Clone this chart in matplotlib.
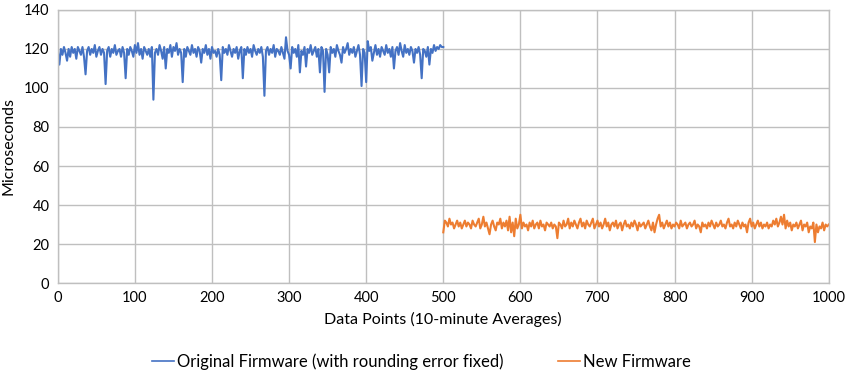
import numpy as np
import matplotlib
matplotlib.use("Agg")
import matplotlib.pyplot as plt

plt.rcParams['font.family'] = ['Lato', 'DejaVu Sans']

# Original firmware: data points 0..500, every 2nd point
orig_x = list(range(0, 501, 2))
orig_y = [
    119, 112, 120, 117, 121, 118, 114, 120, 116, 121,
    118, 120, 115, 121, 119, 117, 121, 116, 107, 119,
    121, 117, 120, 118, 122, 116, 119, 121, 117, 120,
    118, 102, 119, 121, 116, 120, 118, 122, 117, 119,
    120, 116, 121, 118, 105, 120, 117, 121, 119, 116,
    122, 118, 123, 117, 120, 115, 121, 119, 117, 120,
    116, 121, 94, 118, 120, 117, 122, 119, 115, 121,
    110, 120, 118, 122, 116, 121, 119, 123, 117, 120,
    118, 103, 120, 116, 121, 119, 117, 122, 118, 120,
    116, 121, 119, 113, 120, 118, 122, 117, 120, 115,
    121, 118, 119, 116, 120, 117, 104, 121, 118, 120,
    117, 122, 119, 116, 120, 118, 121, 115, 119, 121,
    105, 120, 117, 121, 118, 120, 116, 122, 119, 117,
    120, 118, 121, 116, 96, 119, 121, 117, 120, 118,
    122, 116, 120, 119, 117, 121, 118, 115, 126, 119,
    117, 110, 121, 118, 120, 116, 122, 108, 119, 117,
    121, 111, 120, 118, 122, 117, 119, 121, 116, 120,
    108, 121, 119, 98, 120, 117, 108, 121, 118, 120,
    116, 122, 119, 117, 113, 121, 118, 120, 123, 117,
    120, 118, 121, 116, 119, 122, 117, 101, 120, 118,
    103, 124, 119, 121, 114, 118, 122, 117, 120, 116,
    121, 119, 117, 122, 118, 120, 116, 121, 110, 119,
    121, 117, 123, 119, 116, 122, 118, 120, 117, 121,
    119, 113, 120, 118, 121, 117, 105, 120, 119, 116,
    121, 112, 120, 118, 122, 119, 121, 120, 122, 121,
    121,
]

# New firmware: data points 500..1000, every 2nd point
new_x = list(range(500, 1001, 2))
new_y = [
    26, 32, 31, 29, 33, 30, 31, 28, 30, 32,
    29, 31, 28, 30, 32, 29, 31, 30, 28, 32,
    30, 29, 31, 33, 28, 30, 34, 29, 31, 28,
    25, 30, 32, 29, 27, 31, 30, 33, 28, 31,
    29, 32, 27, 34, 26, 31, 24, 33, 28, 30,
    35, 28, 31, 29, 30, 27, 31, 29, 32, 28,
    30, 31, 28, 32, 29, 30, 27, 31, 30, 29,
    31, 28, 30, 29, 23, 31, 30, 28, 32, 29,
    30, 33, 28, 31, 29, 32, 30, 28, 31, 33,
    29, 31, 28, 32, 30, 29, 31, 33, 28, 30,
    32, 29, 31, 28, 30, 33, 29, 31, 27, 30,
    31, 29, 32, 28, 30, 31, 27, 30, 32, 29,
    30, 28, 31, 29, 32, 30, 27, 31, 29, 30,
    31, 28, 30, 32, 29, 27, 31, 26, 30, 33,
    35, 29, 31, 28, 30, 32, 29, 31, 28, 30,
    29, 31, 30, 28, 32, 29, 30, 31, 28, 30,
    31, 29, 30, 32, 28, 30, 29, 26, 31, 29,
    30, 28, 31, 29, 32, 30, 28, 31, 29, 30,
    32, 29, 30, 28, 31, 33, 29, 30, 28, 31,
    29, 32, 30, 28, 31, 29, 30, 26, 31, 33,
    29, 31, 28, 30, 32, 29, 31, 28, 30, 29,
    31, 28, 30, 29, 32, 30, 33, 29, 31, 34,
    30, 35, 28, 32, 29, 31, 27, 30, 29, 31,
    28, 30, 32, 27, 30, 29, 31, 26, 29, 28,
    31, 21, 30, 26, 29, 28, 31, 27, 30, 29,
    30,
]

series_names = ["Original Firmware (with rounding error fixed)", "New Firmware"]
x_ticks = [0, 100, 200, 300, 400, 500, 600, 700, 800, 900, 1000]
y_ticks = [0, 20, 40, 60, 80, 100, 120, 140]

fig = plt.figure(figsize=(8.5, 3.83), dpi=100)
ax = fig.add_axes([0.068, 0.261, 0.907, 0.713])

ax.plot(orig_x, orig_y, color="#4472C4", lw=1.5, label=series_names[0])
ax.plot(new_x, new_y, color="#ED7D31", lw=1.5, label=series_names[1])

ax.set_xlim(0, 1000)
ax.set_ylim(0, 140)
ax.set_xticks(x_ticks)
ax.set_yticks(y_ticks)
ax.grid(True, color="#bfbfbf", lw=1.0)
ax.set_axisbelow(True)
for s in ax.spines.values():
    s.set_color("#bfbfbf")
    s.set_linewidth(1.0)
ax.tick_params(axis="both", length=0, labelsize=10.5, colors="#000000", pad=6)

ax.set_xlabel("Data Points (10-minute Averages)", fontsize=11.5, labelpad=5)
ax.set_ylabel("Microseconds", fontsize=11.5, labelpad=6)

leg = fig.legend(loc="lower center", bbox_to_anchor=(0.496, -0.005), ncol=2, frameon=False,
                 fontsize=12, handlelength=1.3, handletextpad=0.2, columnspacing=3.3)
for h in leg.get_lines():
    h.set_linewidth(1.2)

fig.savefig("out.png", dpi=100)
